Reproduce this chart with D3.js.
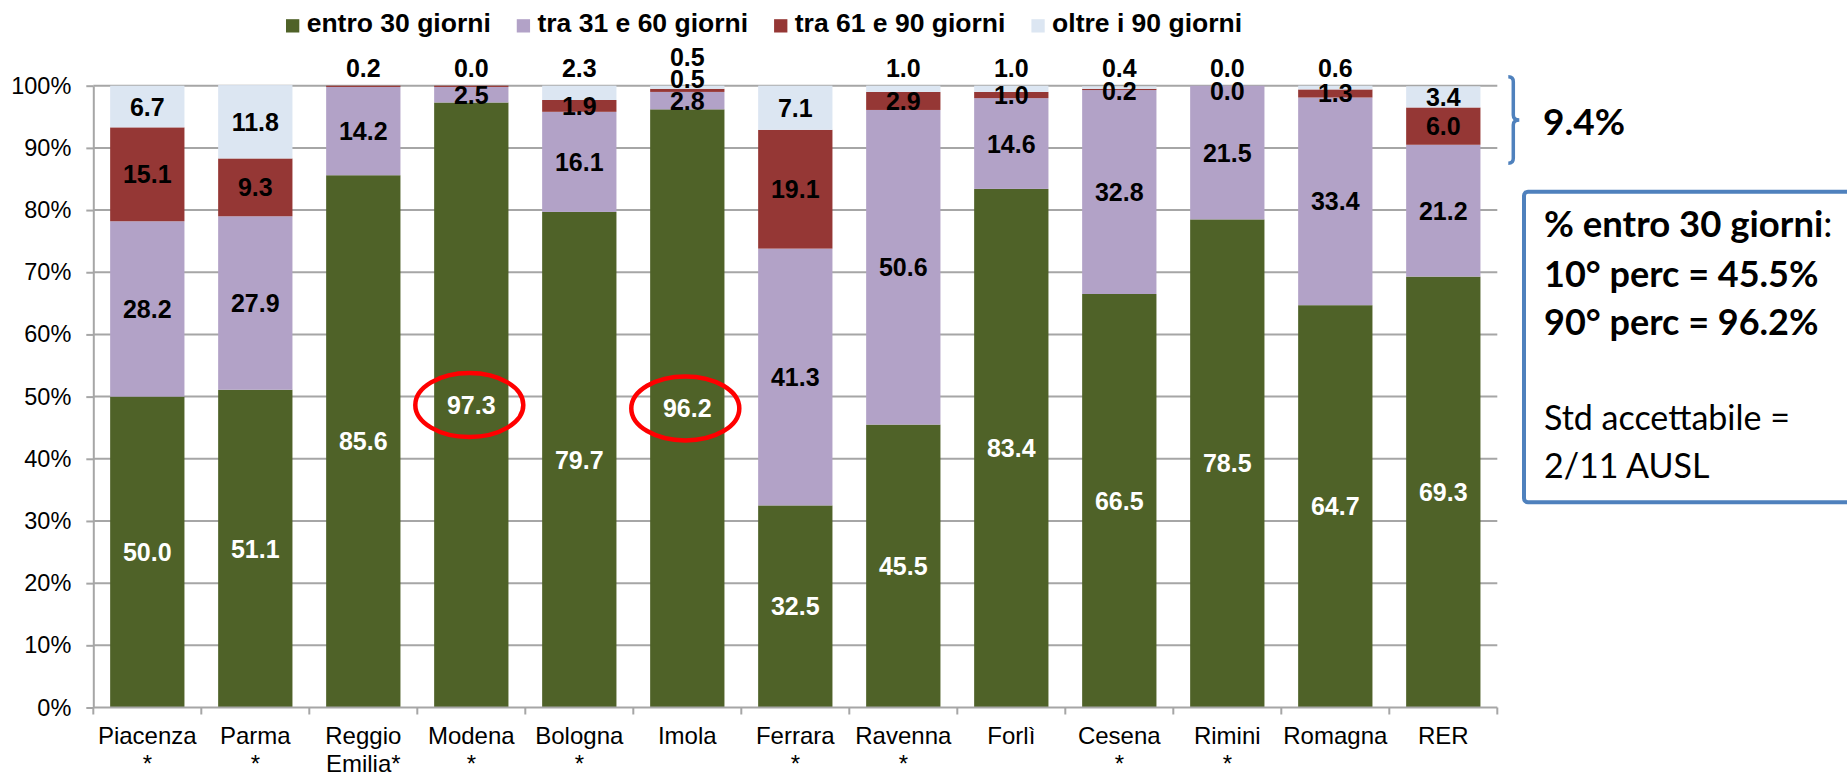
<!DOCTYPE html>
<html>
<head>
<meta charset="utf-8">
<script src="https://cdn.jsdelivr.net/npm/d3@7"></script>
<style>
  html, body { margin: 0; padding: 0; background: #ffffff; }
  svg { display: block; }
</style>
</head>
<body>
<svg id="chart" width="1847" height="775"></svg>
<script>
// Azienda / area names (second line after "\n")
const categories = [
  "Piacenza\n*", "Parma\n*", "Reggio\nEmilia*", "Modena\n*", "Bologna\n*", "Imola",
  "Ferrara\n*", "Ravenna\n*", "Forlì", "Cesena\n*", "Rimini\n*", "Romagna", "RER"
];
const seriesNames = ["entro 30 giorni", "tra 31 e 60 giorni", "tra 61 e 90 giorni", "oltre i 90 giorni"];

// Percent of cases by waiting time
const entro30  = [50.0, 51.1, 85.6, 97.3, 79.7, 96.2, 32.5, 45.5, 83.4, 66.5, 78.5, 64.7, 69.3];
const tra31_60 = [28.2, 27.9, 14.2,  2.5, 16.1,  2.8, 41.3, 50.6, 14.6, 32.8, 21.5, 33.4, 21.2];
const tra61_90 = [15.1,  9.3,  0.2,  0.2,  1.9,  0.5, 19.1,  2.9,  1.0,  0.2,  0.0,  1.3,  6.0];
const oltre90  = [ 6.7, 11.8,  0.0,  0.0,  2.3,  0.5,  7.1,  1.0,  1.0,  0.4,  0.0,  0.6,  3.4];

const yTicks = [0, 10, 20, 30, 40, 50, 60, 70, 80, 90, 100];

// Segments whose value label is not printed
const hiddenLabels = [
  ["Reggio\nEmilia*", "oltre i 90 giorni"],
  ["Modena\n*", "tra 61 e 90 giorni"]
];
// Aggregates that are not single AUSL
const aggregateAreas = ["Romagna", "RER"];
const totalArea = "RER";

const colors = ["#4F6228", "#B2A2C7", "#953735", "#DCE6F2"];
const chartFont = "'Liberation Sans', Arial, Helvetica, sans-serif";
const noteFont = "Lato, 'Open Sans', 'Noto Sans', sans-serif";
const noteBlue = "#4F81BD";
const fmt1 = d3.format(".1f");

const svg = d3.select("#chart");
const plot = { left: 93.3, right: 1497.3, top: 85.7, bottom: 707.5 };

const rows = categories.map((c, i) => ({
  category: c,
  [seriesNames[0]]: entro30[i],
  [seriesNames[1]]: tra31_60[i],
  [seriesNames[2]]: tra61_90[i],
  [seriesNames[3]]: oltre90[i]
}));

const x = d3.scaleBand()
  .domain(categories)
  .range([plot.left, plot.right])
  .paddingInner(0.312)
  .paddingOuter(0.156);

const y = d3.scaleLinear().domain([0, 100]).range([plot.bottom, plot.top]);
const color = d3.scaleOrdinal().domain(seriesNames).range(colors);

// Horizontal gridlines
svg.append("g")
  .selectAll("line")
  .data(yTicks.filter(d => d > 0))
  .join("line")
  .attr("x1", plot.left).attr("x2", plot.right)
  .attr("y1", d => y(d)).attr("y2", d => y(d))
  .attr("stroke", "#A6A6A6").attr("stroke-width", 2);

// Y axis
const yAxis = svg.append("g")
  .attr("transform", `translate(${plot.left},0)`)
  .call(d3.axisLeft(y).tickValues(yTicks).tickFormat(d => d + "%")
    .tickSize(7).tickSizeOuter(0).tickPadding(15));
yAxis.select(".domain").attr("stroke", "#A6A6A6").attr("stroke-width", 2);
yAxis.selectAll(".tick line").attr("stroke", "#A6A6A6").attr("stroke-width", 2);
yAxis.selectAll(".tick text")
  .attr("font-family", chartFont).attr("font-size", 23.5).attr("fill", "#000");

// Stacked bars
const stacked = d3.stack().keys(seriesNames)(rows);
svg.append("g")
  .selectAll("g")
  .data(stacked)
  .join("g")
  .attr("fill", d => color(d.key))
  .selectAll("rect")
  .data(d => d.map(s => ({ s, key: d.key })))
  .join("rect")
  .attr("x", d => x(d.s.data.category))
  .attr("width", x.bandwidth())
  .attr("y", d => y(d.s[1]))
  .attr("height", d => Math.max(0, y(d.s[0]) - y(d.s[1])));

// X axis line and ticks at category boundaries
const xAxis = svg.append("g");
xAxis.append("line")
  .attr("x1", plot.left).attr("x2", plot.right)
  .attr("y1", plot.bottom).attr("y2", plot.bottom)
  .attr("stroke", "#A6A6A6").attr("stroke-width", 2);
const gap = x.step() - x.bandwidth();
const boundaries = categories.map(c => x(c) - gap / 2).concat([plot.right]);
xAxis.selectAll(".xtick")
  .data(boundaries)
  .join("line")
  .attr("class", "xtick")
  .attr("x1", d => d).attr("x2", d => d)
  .attr("y1", plot.bottom).attr("y2", plot.bottom + 7)
  .attr("stroke", "#A6A6A6").attr("stroke-width", 2);

const xLabels = xAxis.selectAll(".xlabel")
  .data(categories)
  .join("text")
  .attr("class", "xlabel")
  .attr("text-anchor", "middle")
  .attr("font-family", chartFont)
  .attr("font-size", 24)
  .attr("fill", "#000");
xLabels.selectAll("tspan")
  .data(d => d.split("\n").map((t, i) => ({ t, i, c: d })))
  .join("tspan")
  .attr("x", d => x(d.c) + x.bandwidth() / 2)
  .attr("y", d => plot.bottom + 36 + d.i * 28)
  .text(d => d.t);

// Value labels: centred in their segment; thin top segments go above the bar,
// and labels of one bar are kept apart from the label below them.
const isHidden = (cat, key) => hiddenLabels.some(h => h[0] === cat && h[1] === key);
const aboveTop = y(100) - 18;
const minGap = 22;
const labels = [];
categories.forEach((cat, i) => {
  const topKey = seriesNames[3], redKey = seriesNames[2];
  const topSmall = !isHidden(cat, topKey) && oltre90[i] < 3;
  let prevY = Infinity;
  stacked.forEach((layer, si) => {
    const seg = layer[i];
    const key = layer.key;
    if (isHidden(cat, key)) return;
    const v = seg[1] - seg[0];
    let ly = y((seg[0] + seg[1]) / 2);
    if (key === topKey && v < 3) ly = aboveTop;
    if (key === redKey && v < 1) ly = topSmall ? y(100) + 5 : aboveTop;
    ly = Math.min(ly, prevY - minGap);
    prevY = ly;
    labels.push({
      cat, key, value: v, x: x(cat) + x.bandwidth() / 2, y: ly,
      fill: si === 0 ? "#ffffff" : "#000000"
    });
  });
});

svg.append("g")
  .selectAll("text")
  .data(labels)
  .join("text")
  .attr("x", d => d.x)
  .attr("y", d => d.y)
  .attr("dy", "0.36em")
  .attr("text-anchor", "middle")
  .attr("font-family", chartFont)
  .attr("font-weight", "bold")
  .attr("font-size", 25)
  .attr("fill", d => d.fill)
  .text(d => fmt1(d.value));

// Percentiles of "entro 30 giorni" over the single AUSL
const auslIdx = categories.map((c, i) => i).filter(i => !aggregateAreas.includes(categories[i]));
const auslValues = auslIdx.map(i => entro30[i]).sort(d3.ascending);
const p10 = d3.quantile(auslValues, 0.1);
const p90 = d3.quantile(auslValues, 0.9);
const topAusl = auslIdx.filter(i => entro30[i] >= p90);

// Red ellipses around the AUSL at or above the 90th percentile
svg.append("g")
  .selectAll("ellipse")
  .data(topAusl)
  .join("ellipse")
  .attr("cx", i => x(categories[i]) + x.bandwidth() / 2 - 2)
  .attr("cy", i => y(entro30[i] / 2))
  .attr("rx", 54)
  .attr("ry", 32)
  .attr("fill", "none")
  .attr("stroke", "#FF0000")
  .attr("stroke-width", 4.5);

// Legend
const legend = svg.append("g").attr("font-family", chartFont);
let lx = 286;
seriesNames.forEach((name, i) => {
  legend.append("rect")
    .attr("x", lx).attr("y", 19.2).attr("width", 13.3).attr("height", 13.3)
    .attr("fill", colors[i]);
  const t = legend.append("text")
    .attr("x", lx + 20.7).attr("y", 32.3)
    .attr("font-size", 26.5).attr("font-weight", "bold").attr("fill", "#000")
    .text(name);
  lx += 20.7 + t.node().getComputedTextLength() + 26;
});

// Bracket over the RER share beyond 60 days
const rerIdx = categories.indexOf(totalArea);
const beyond60 = tra61_90[rerIdx] + oltre90[rerIdx];
const bTop = y(100) - 9;
const bBot = y(100 - beyond60) + 19;
const bMid = (bTop + bBot) / 2;
const bx = plot.right + 16, r = 5;
svg.append("path")
  .attr("d", `M${bx - r},${bTop} Q${bx},${bTop} ${bx},${bTop + r}
              L${bx},${bMid - r} Q${bx},${bMid} ${bx + 6},${bMid}
              Q${bx},${bMid} ${bx},${bMid + r}
              L${bx},${bBot - r} Q${bx},${bBot} ${bx - r},${bBot}`)
  .attr("fill", "none")
  .attr("stroke", noteBlue)
  .attr("stroke-width", 3.5);

svg.append("text")
  .attr("x", 1543).attr("y", 135)
  .attr("font-family", noteFont).attr("font-weight", "bold")
  .attr("font-size", 37).attr("fill", "#000")
  .text(fmt1(beyond60) + "%");

// Note box
svg.append("rect")
  .attr("x", 1524).attr("y", 191.7)
  .attr("width", 345).attr("height", 310.6)
  .attr("rx", 4)
  .attr("fill", "#ffffff")
  .attr("stroke", noteBlue).attr("stroke-width", 4);

const note = svg.append("g")
  .attr("font-family", noteFont).attr("font-size", 34).attr("fill", "#000");
const line1 = note.append("text").attr("x", 1544).attr("y", 236.7);
line1.append("tspan").attr("font-weight", "bold").attr("font-size", 36.5).text("% entro 30 giorni");
line1.append("tspan").attr("font-size", 36.5).text(":");
note.append("text").attr("x", 1544).attr("y", 286.7).attr("font-weight", "bold").attr("font-size", 36)
  .text(`10° perc = ${fmt1(p10)}%`);
note.append("text").attr("x", 1544).attr("y", 335).attr("font-weight", "bold").attr("font-size", 36)
  .text(`90° perc = ${fmt1(p90)}%`);
note.append("text").attr("x", 1544).attr("y", 430).text("Std accettabile =");
note.append("text").attr("x", 1544).attr("y", 478.3).text(`${topAusl.length}/${auslIdx.length} AUSL`);
</script>
</body>
</html>
